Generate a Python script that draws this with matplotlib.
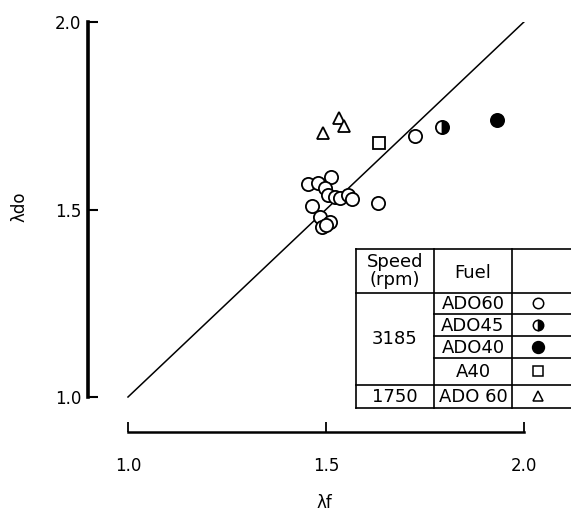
import matplotlib
matplotlib.use("Agg")
import matplotlib.pyplot as plt

plt.rcParams['font.family'] = ['DejaVu Sans']

# ---- data ----
ado60_3185_x = [1.514, 1.455, 1.481, 1.497, 1.504, 1.523, 1.535, 1.556, 1.566, 1.632,
                1.464, 1.485, 1.510, 1.489, 1.500, 1.725]
ado60_3185_y = [1.587, 1.568, 1.570, 1.557, 1.539, 1.533, 1.531, 1.539, 1.528, 1.518,
                1.509, 1.481, 1.467, 1.454, 1.459, 1.696]
ado45_x = [1.793]
ado45_y = [1.720]
ado40_x = [1.932]
ado40_y = [1.739]
a40_x = [1.634]
a40_y = [1.677]
ado60_1750_x = [1.492, 1.533, 1.545]
ado60_1750_y = [1.704, 1.744, 1.723]

line_x = [1.0, 2.0]
line_y = [1.0, 2.0]

xticks = [1.0, 1.5, 2.0]
xtick_labels = ["1.0", "1.5", "2.0"]
yticks = [1.0, 1.5, 2.0]
ytick_labels = ["1.0", "1.5", "2.0"]

speeds = ["Speed\n(rpm)", "3185", "1750"]
fuels = ["ADO60", "ADO45", "ADO40", "A40", "ADO 60"]

# ---- figure ----
W, H = 571, 513
fig = plt.figure(figsize=(W / 100, H / 100), dpi=100)

def px_rect(x0, y0, x1, y1):
    return [x0 / W, 1 - y1 / H, (x1 - x0) / W, (y1 - y0) / H]

ax = fig.add_axes(px_rect(88, 22, 571, 432))
ax.set_xlim(0.899, 2.119)
ax.set_ylim(0.9067, 2.0)

ax.plot(line_x, line_y, color='black', lw=1.1)

ms = 9.5
mew = 1.3
ax.plot(ado60_3185_x, ado60_3185_y, 'o', ms=ms, mfc='white', mec='black', mew=mew, clip_on=False)
ax.plot(ado45_x, ado45_y, 'o', ms=ms, mfc='black', mec='black', mew=mew,
        fillstyle='right', markerfacecoloralt='white', clip_on=False)
ax.plot(ado40_x, ado40_y, 'o', ms=ms, mfc='black', mec='black', mew=mew, clip_on=False)
ax.plot(a40_x, a40_y, 's', ms=ms - 0.5, mfc='white', mec='black', mew=mew, clip_on=False)
ax.plot(ado60_1750_x, ado60_1750_y, '^', ms=ms - 0.5, mfc='white', mec='black', mew=mew, clip_on=False)

for s in ['top', 'right']:
    ax.spines[s].set_visible(False)
ax.spines['left'].set_bounds(1.0, 2.0)
ax.spines['left'].set_linewidth(2.6)
ax.spines['bottom'].set_bounds(1.0, 2.0)
ax.spines['bottom'].set_linewidth(1.8)

ax.set_xticks(xticks)
ax.set_xticklabels(xtick_labels)
ax.set_yticks(yticks)
ax.set_yticklabels(ytick_labels)
ax.tick_params(axis='y', direction='in', length=7, width=1.5, pad=5, labelsize=12)
ax.tick_params(axis='x', direction='in', length=7, width=1.3, pad=18, labelsize=12)

ax.set_xlabel("λf", fontsize=12)
ax.xaxis.set_label_coords(0.49, -0.15)
ax.set_ylabel("λdo", fontsize=12)
ax.yaxis.set_label_coords(-0.124, 0.55)

# ---- table legend ----
tx0, tx1 = 356, 571
ty0, ty1 = 249, 408
tab = fig.add_axes(px_rect(tx0, ty0, tx1, ty1))
tab.set_xlim(tx0, tx1)
tab.set_ylim(ty1, ty0)
tab.axis('off')

col_edges = [356, 434, 512]
row_edges = [249, 293, 314, 336, 358, 385, 408]
lw = 1.2
kw = dict(color='black', lw=lw, clip_on=False)
# full-width lines
for y in [row_edges[0], row_edges[1], row_edges[5], row_edges[6]]:
    tab.plot([tx0, tx1], [y, y], **kw)
# partial lines (fuel + marker columns)
for y in row_edges[2:5]:
    tab.plot([col_edges[1], tx1], [y, y], **kw)
for x in col_edges:
    tab.plot([x, x], [ty0, ty1], **kw)

fs = 13
c1 = (col_edges[0] + col_edges[1]) / 2
c2 = (col_edges[1] + col_edges[2]) / 2
c3 = 538
tab.text(c1, (row_edges[0] + row_edges[1]) / 2, speeds[0], ha='center', va='center',
         fontsize=fs, linespacing=1.0)
tab.text(c2, (row_edges[0] + row_edges[1]) / 2 + 2, "Fuel", ha='center', va='center', fontsize=fs)
tab.text(c1, 339, speeds[1], ha='center', va='center', fontsize=fs)
tab.text(c1, (row_edges[5] + row_edges[6]) / 2 + 1, speeds[2], ha='center', va='center', fontsize=fs)
for i, f in enumerate(fuels):
    yc = (row_edges[i + 1] + row_edges[i + 2]) / 2 + 1
    tab.text(c2, yc, f, ha='center', va='center', fontsize=fs)

tms = 7.5
tmew = 1.1
ycs = [(row_edges[i + 1] + row_edges[i + 2]) / 2 for i in range(5)]
tab.plot([c3], [ycs[0]], 'o', ms=tms, mfc='white', mec='black', mew=tmew)
tab.plot([c3], [ycs[1]], 'o', ms=tms, mfc='black', mec='black', mew=tmew,
         fillstyle='right', markerfacecoloralt='white')
tab.plot([c3], [ycs[2]], 'o', ms=tms + 1, mfc='black', mec='black', mew=tmew)
tab.plot([c3], [ycs[3]], 's', ms=tms, mfc='white', mec='black', mew=tmew)
tab.plot([c3], [ycs[4]], '^', ms=tms - 0.5, mfc='white', mec='black', mew=tmew)

fig.savefig("out.png", dpi=100)
